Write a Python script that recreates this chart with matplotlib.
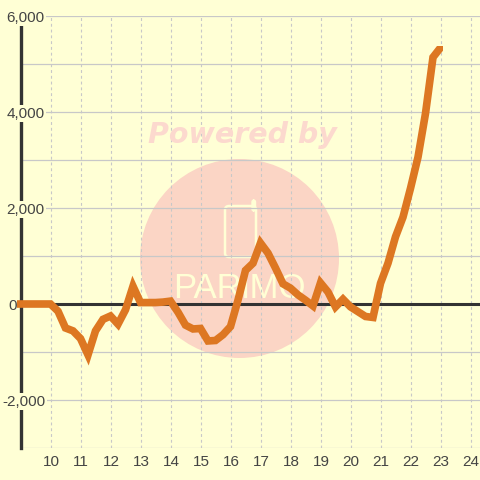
import matplotlib
matplotlib.use("Agg")
import matplotlib.pyplot as plt
from matplotlib.patches import Circle, FancyBboxPatch, Rectangle
from matplotlib.transforms import IdentityTransform, ScaledTranslation

hours = [9 + 0.25 * i for i in range(57)]
values = [0, 0, 0, 0, 0, -150, -500, -560, -720, -1060, -560, -320, -250, -420, -120, 370,
          30, 30, 30, 40, 60, -170, -440, -520, -510, -770, -760, -640, -470, 80, 700, 850,
          1270, 1060, 750, 420, 330, 190, 80, -40, 440, 250, -60, 100, -60, -160, -260, -280,
          430, 850, 1400, 1810, 2410, 3060, 3970, 5140, 5340]
x_ticks = list(range(10, 25))
y_grid = list(range(-3000, 7000, 1000))
y_ticks = [-2000, 0, 2000, 4000, 6000]
y_labels = ["-2,000", "0", "2,000", "4,000", "6,000"]

BG = "#FFFFD5"
GRID = "#C8C8C8"
DARK = "#333333"
TEXT = "#444444"
LINE = "#DD7722"
W, H = 480, 480

fig = plt.figure(figsize=(4.8, 4.8), dpi=100, facecolor=BG)
L, R, T, B = 20.5, 480, 16, 448
ax = fig.add_axes([L / W, 1 - B / H, (R - L) / W, (B - T) / H], facecolor=BG)
ax.set_xlim(9, 9 + (R - L) / 30)
ax.set_ylim(-3000, 6000)
for s in ax.spines.values():
    s.set_visible(False)

# Watermark (pixel space)
pix = IdentityTransform()
ax.add_patch(Circle((239.5, H - 258.5), 99.5, transform=pix, fc="#FBD5C5", ec="none", zorder=0.5, clip_on=False))
ax.add_patch(FancyBboxPatch((228, H - 254), 25, 45, boxstyle="round,pad=3,rounding_size=4", transform=pix,
                            fc="none", ec=BG, lw=1.8, zorder=0.6, clip_on=False))
ax.add_patch(FancyBboxPatch((253, H - 210), 1.5, 9, boxstyle="round,pad=1,rounding_size=2", transform=pix,
                            fc=BG, ec=BG, lw=1.0, zorder=0.6, clip_on=False))
fig.text(242 / W, 1 - 135 / H, "Powered by", color="#FCD9CE", fontsize=20.5, fontweight="bold",
         style="oblique", family="DejaVu Sans", ha="center", va="center", zorder=0.1)
ax.text(239 / W, 1 - 289 / H, "PARiMO", transform=fig.transFigure, color=BG, fontsize=25,
        family="Liberation Sans", ha="center", va="center", zorder=0.7)

for v in y_grid:
    ax.axhline(v, color=GRID, lw=0.9, zorder=1)
for x in x_ticks:
    ax.axvline(x, color=GRID, lw=0.8, ls=(0, (2.6, 2.6)), zorder=1)
ax.axhline(0, color=DARK, lw=2.2, zorder=2)
ax.axvline(9, color=DARK, lw=2.4, zorder=2, clip_on=False)

line, = ax.plot(hours, values, color=LINE, lw=5.5, solid_capstyle="projecting", solid_joinstyle="miter",
                zorder=3)
line.set_clip_path(Rectangle((17, 0), 442.7 - 17, H - 46.3, transform=pix))

ax.set_xticks(x_ticks)
ax.set_yticks(y_ticks)
ax.set_yticklabels(y_labels)
ax.tick_params(length=0, labelcolor=TEXT)
ax.tick_params(axis="x", pad=5)
for lab in ax.get_xticklabels():
    lab.set_fontfamily("Liberation Sans")
    lab.set_fontsize(11)
    lab.set_transform(lab.get_transform() + ScaledTranslation(0.7 / 100, 0, fig.dpi_scale_trans))
offsets = {"-2,000": 2, "0": 8, "2,000": 6.5, "4,000": 6.5, "6,000": 6.5}
ax.tick_params(axis="y", pad=0)
for lab, s in zip(ax.get_yticklabels(), y_labels):
    lab.set_fontfamily("Liberation Sans")
    lab.set_fontsize(11)
    lab.set_ha("left")
    lab.set_bbox(dict(fc=BG, ec="none", pad=1))
    lab.set_transform(lab.get_transform() + ScaledTranslation((offsets[s] - L) / 100, 0, fig.dpi_scale_trans))
ax.yaxis.set_zorder(2.5)

fig.savefig("out.png", dpi=100, facecolor=BG)
